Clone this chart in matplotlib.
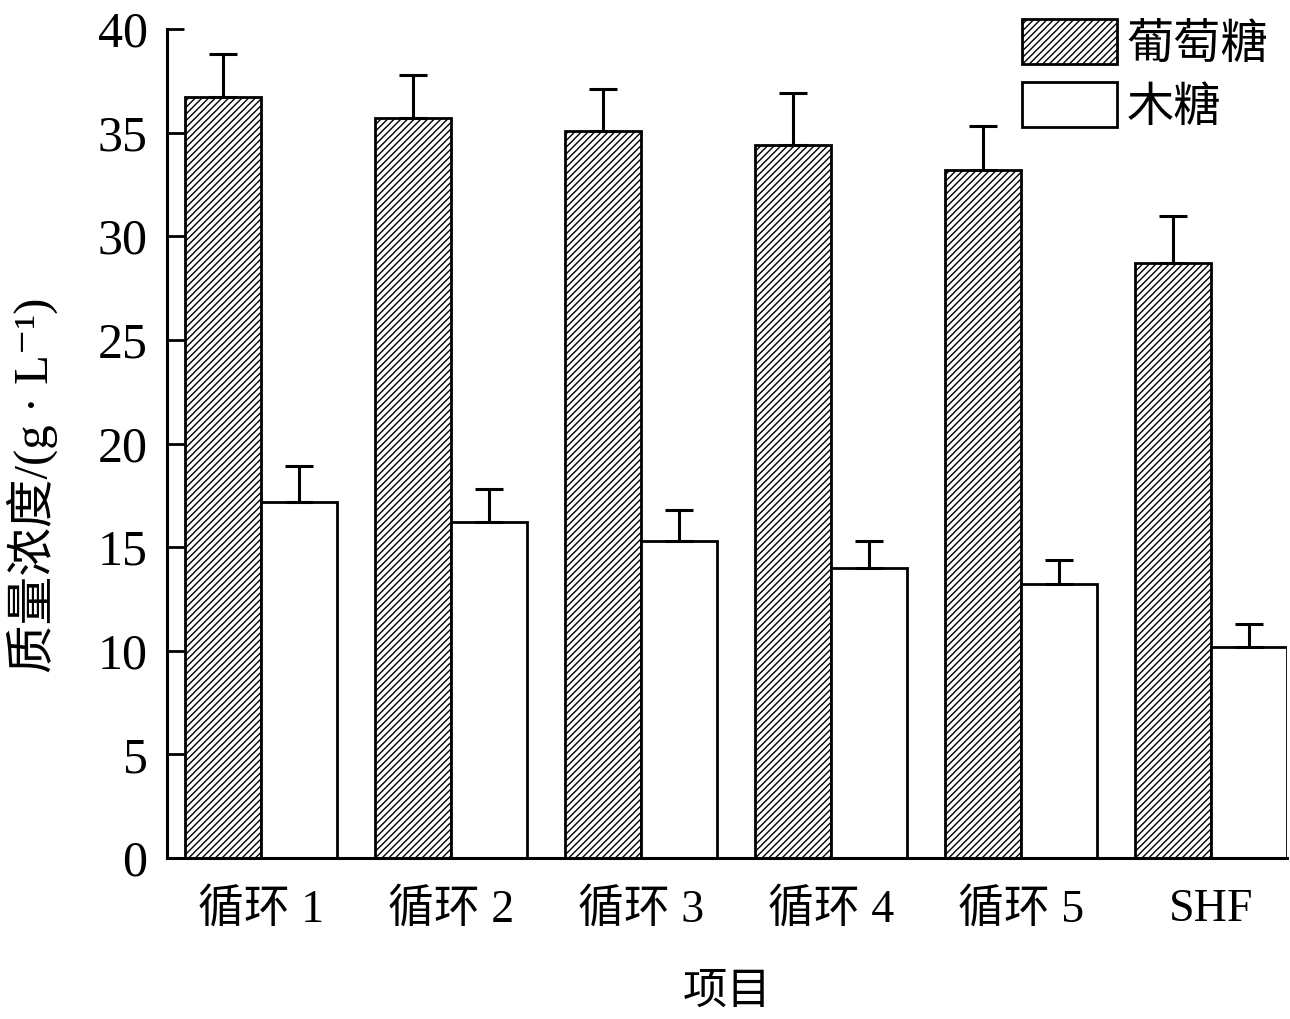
import numpy as np
import matplotlib.pyplot as plt

plt.rcParams['font.family'] = ['Liberation Serif', 'Noto Sans CJK SC', 'DejaVu Serif']
plt.rcParams['hatch.linewidth'] = 1.0
plt.rcParams['hatch.color'] = '#666666'

# 数据
items = ["循环 1", "循环 2", "循环 3", "循环 4", "循环 5", "SHF"]
glucose = [36.7, 35.7, 35.1, 34.4, 33.2, 28.7]
glucose_err = [2.1, 2.1, 2.0, 2.5, 2.1, 2.3]
xylose = [17.2, 16.2, 15.3, 14.0, 13.2, 10.2]
xylose_err = [1.7, 1.6, 1.5, 1.3, 1.2, 1.1]

x = np.arange(len(items))
w = 0.4

fig = plt.figure(figsize=(12.9, 10.19), dpi=100)
ax = fig.add_axes([167 / 1290, 161 / 1019, (1287 - 167) / 1290, (858 - 29) / 1019])

ebar = dict(ecolor="black", elinewidth=2.2, capsize=10, capthick=2.2)
ax.bar(x - w / 2, glucose, w, color="white", edgecolor="black", linewidth=2.0,
       hatch="/////", label="葡萄糖",
       yerr=[np.zeros(len(x)), glucose_err], error_kw=ebar)
ax.bar(x + w / 2, xylose, w, color="white", edgecolor="black", linewidth=2.0,
       label="木糖",
       yerr=[np.zeros(len(x)), xylose_err], error_kw=ebar)

ax.set_xlim(-0.495, 5.4)
ax.set_ylim(0, 40)
ax.set_yticks(np.arange(0, 41, 5))
ax.set_xticks(x)
ax.set_xticklabels(items)
ax.tick_params(axis="y", direction="in", length=12, width=2, labelsize=36, pad=14)
ax.tick_params(axis="x", length=0, labelsize=33, pad=22)
for s in ["top", "right"]:
    ax.spines[s].set_visible(False)
for s in ["left", "bottom"]:
    ax.spines[s].set_linewidth(2.2)

ax.set_ylabel("质量浓度/(g · L⁻¹)", fontsize=35)
ax.yaxis.set_label_coords(-0.097, 0.45)
ax.set_xlabel("项目", fontsize=32, labelpad=30)

leg = ax.legend(loc="upper right", bbox_to_anchor=(1.0, 1.035), fontsize=34,
                frameon=False, handlelength=2.0, handleheight=1.1,
                handletextpad=0.2, labelspacing=0.3, borderaxespad=0)

fig.savefig("out.png", dpi=100)
